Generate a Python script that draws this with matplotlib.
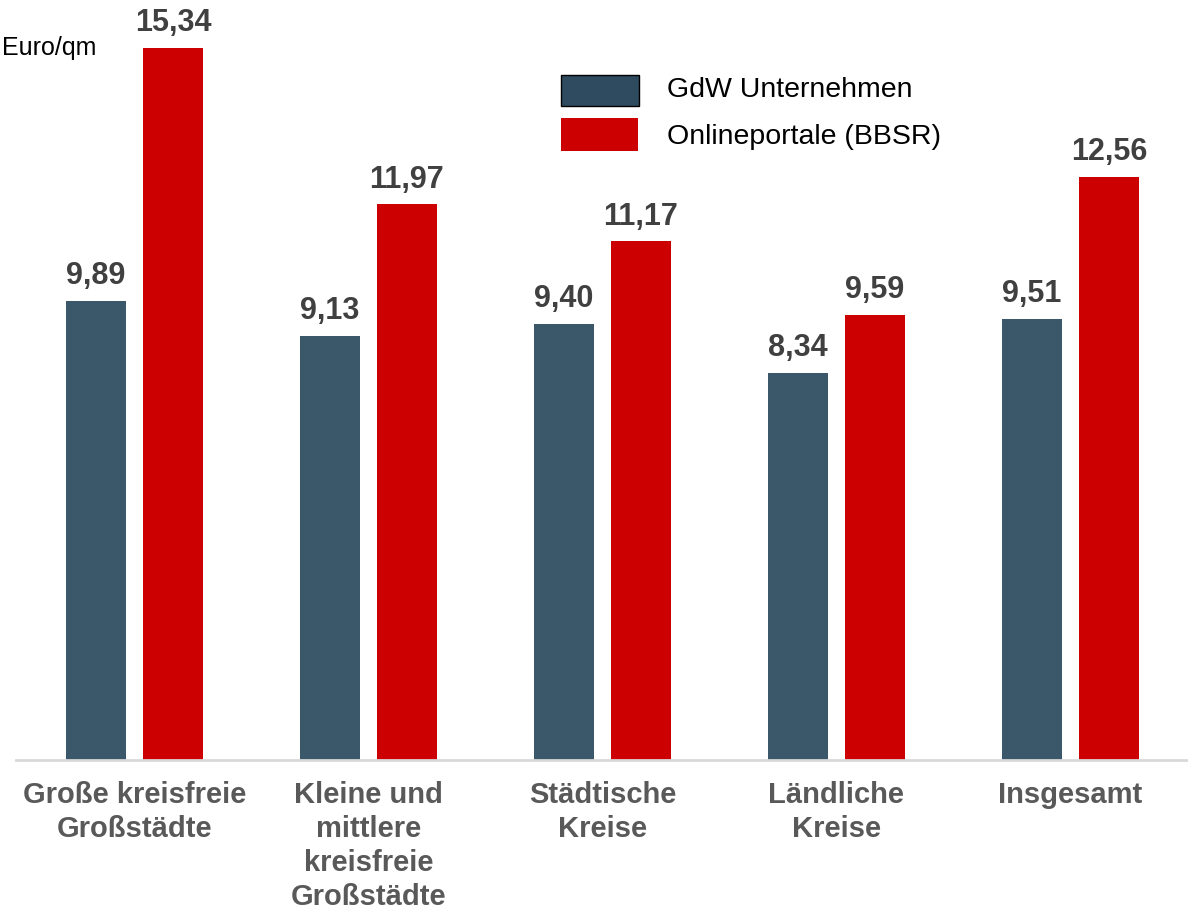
import numpy as np
import matplotlib
matplotlib.use("Agg")
import matplotlib.pyplot as plt

plt.rcParams["font.family"] = ["Liberation Sans", "DejaVu Sans"]

# ---- Daten ----
kategorien = ["Große kreisfreie\nGroßstädte",
              "Kleine und\nmittlere\nkreisfreie\nGroßstädte",
              "Städtische\nKreise",
              "Ländliche\nKreise",
              "Insgesamt"]
gdw = [9.89, 9.13, 9.40, 8.34, 9.51]
online = [15.34, 11.97, 11.17, 9.59, 12.56]
serien = ["GdW Unternehmen", "Onlineportale (BBSR)"]

W, H = 1188, 909
fig = plt.figure(figsize=(W / 100, H / 100), dpi=100)
px_per_unit = 46.42
ax = fig.add_axes([16 / W, (H - 760) / H, (W - 16) / W, 16 * px_per_unit / H])
ax.set_xlim(-0.506, 4.502)
ax.set_ylim(0, 16)

x = np.arange(len(kategorien))
bw = 60 / 234
off = 77 / 2 / 234
b1 = ax.bar(x - off, gdw, bw, color="#3b576a", label=serien[0])
b2 = ax.bar(x + off, online, bw, color="#cc0000", label=serien[1])

for bars, vals in ((b1, gdw), (b2, online)):
    for r, v in zip(bars, vals):
        ax.annotate(f"{v:.2f}".replace(".", ","),
                    (r.get_x() + r.get_width() / 2, v),
                    xytext=(0, 7), textcoords="offset points",
                    ha="center", va="bottom", fontsize=22,
                    fontweight="bold", color="#404040")

for s in ("top", "right", "left"):
    ax.spines[s].set_visible(False)
ax.spines["bottom"].set_color("#d9d9d9")
ax.spines["bottom"].set_linewidth(2)
ax.set_yticks([])
ax.set_xticks(x)
ax.set_xticklabels(kategorien, fontsize=21, fontweight="bold",
                   color="#595959", linespacing=1.28)
ax.tick_params(axis="x", length=0, pad=15)

# Einheit oben links
fig.text(2 / W, 1 - 48 / H, "Euro/qm", ha="left", va="center",
         fontsize=18, color="#000000")

# Legende von Hand
fig.patches.append(plt.Rectangle((561 / W, 1 - 106 / H), 78 / W, 31 / H,
                                 transform=fig.transFigure,
                                 facecolor="#2f4b60", edgecolor="#000000",
                                 linewidth=1))
fig.patches.append(plt.Rectangle((561 / W, 1 - 151 / H), 77 / W, 33 / H,
                                 transform=fig.transFigure,
                                 facecolor="#cc0000", edgecolor="none"))
fig.text(667 / W, 1 - 90 / H, serien[0], ha="left", va="center",
         fontsize=20.5, color="#000000")
fig.text(667 / W, 1 - 137 / H, serien[1], ha="left", va="center",
         fontsize=20.5, color="#000000")

fig.savefig("out.png", dpi=100)
